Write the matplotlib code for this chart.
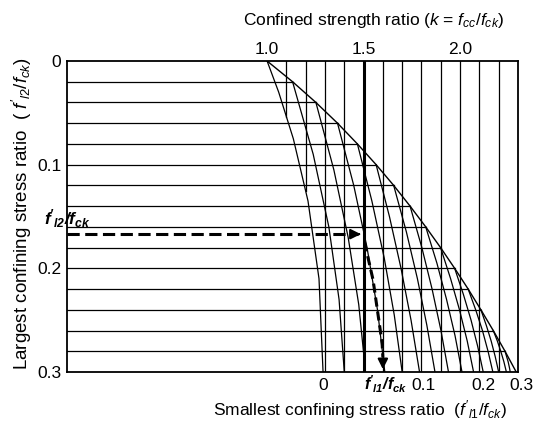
import numpy as np
import matplotlib.pyplot as plt
from matplotlib.transforms import blended_transform_factory

plt.rcParams['font.family'] = ['Liberation Sans', 'DejaVu Sans']
plt.rcParams['mathtext.fontset'] = 'custom'
plt.rcParams['mathtext.rm'] = 'Liberation Sans'
plt.rcParams['mathtext.it'] = 'Liberation Sans:italic'
plt.rcParams['mathtext.bf'] = 'Liberation Sans:bold'
plt.rcParams['mathtext.bfit'] = 'Liberation Sans:italic:bold'

# envelope: f'l1 = f'l2
env_f2 = [0.00, 0.02, 0.04, 0.06, 0.08, 0.10, 0.12, 0.14,
          0.16, 0.18, 0.20, 0.22, 0.24, 0.26, 0.28, 0.30]
env_k = [1.000, 1.132, 1.253, 1.365, 1.468, 1.565, 1.656, 1.741,
         1.822, 1.899, 1.972, 2.042, 2.108, 2.172, 2.233, 2.291]

# curves of constant f'l1/fck
f1_levels = [0.00, 0.02, 0.04, 0.06, 0.08, 0.10, 0.12, 0.14,
             0.16, 0.18, 0.20, 0.22, 0.24, 0.26, 0.28]
curve_f2 = [
    [0.000, 0.030, 0.075, 0.135, 0.210, 0.300],
    [0.020, 0.090, 0.160, 0.230, 0.300],
    [0.040, 0.105, 0.170, 0.235, 0.300],
    [0.060, 0.120, 0.180, 0.240, 0.300],
    [0.080, 0.135, 0.190, 0.245, 0.300],
    [0.100, 0.150, 0.200, 0.250, 0.300],
    [0.120, 0.165, 0.210, 0.255, 0.300],
    [0.140, 0.180, 0.220, 0.260, 0.300],
    [0.160, 0.195, 0.230, 0.265, 0.300],
    [0.180, 0.210, 0.240, 0.270, 0.300],
    [0.200, 0.225, 0.250, 0.275, 0.300],
    [0.220, 0.240, 0.260, 0.280, 0.300],
    [0.240, 0.255, 0.270, 0.285, 0.300],
    [0.260, 0.270, 0.280, 0.290, 0.300],
    [0.280, 0.285, 0.290, 0.295, 0.300],
]
curve_k = [
    [1.000, 1.060, 1.136, 1.212, 1.269, 1.290],
    [1.132, 1.239, 1.320, 1.373, 1.400],
    [1.253, 1.346, 1.420, 1.475, 1.510],
    [1.365, 1.449, 1.518, 1.572, 1.610],
    [1.468, 1.543, 1.607, 1.659, 1.700],
    [1.565, 1.634, 1.694, 1.746, 1.790],
    [1.656, 1.722, 1.779, 1.828, 1.870],
    [1.741, 1.802, 1.855, 1.901, 1.940],
    [1.822, 1.880, 1.930, 1.974, 2.010],
    [1.899, 1.951, 1.997, 2.037, 2.070],
    [1.972, 2.017, 2.057, 2.091, 2.120],
    [2.042, 2.081, 2.116, 2.145, 2.170],
    [2.108, 2.136, 2.161, 2.182, 2.200],
    [2.172, 2.193, 2.211, 2.227, 2.240],
    [2.233, 2.241, 2.249, 2.255, 2.260],
]

row_f2 = [0.02, 0.04, 0.06, 0.08, 0.10, 0.12, 0.14,
          0.16, 0.18, 0.20, 0.22, 0.24, 0.26, 0.28]
col_k = [1.1, 1.2, 1.3, 1.4, 1.5, 1.6, 1.7, 1.8, 1.9, 2.0, 2.1, 2.2]

top_ticks = [1.0, 1.5, 2.0]
top_labels = ['1.0', '1.5', '2.0']
left_ticks = [0.0, 0.1, 0.2, 0.3]
left_labels = ['0', '0.1', '0.2', '0.3']
bottom_k = [1.29, 1.81, 2.12, 2.32]
bottom_labels = ['0', '0.1', '0.2', '0.3']

# example reading path
arrow_f2 = 0.167
arrow_k_end = 1.50
path_k = [1.505, 1.549, 1.596, 1.600]
path_f2 = [0.175, 0.211, 0.272, 0.286]

xmin, xmax = -0.037, 2.30

fig = plt.figure(figsize=(5.41, 4.21), dpi=100)
ax = fig.add_axes([0.1238, 0.1164, 0.8336, 0.7387])
ax.set_xlim(xmin, xmax)
ax.set_ylim(0.3, 0.0)
for sp in ax.spines.values():
    sp.set_linewidth(1.3)

# horizontal lines stop at the envelope
for y in row_f2:
    x_end = np.interp(y, env_f2, env_k)
    ax.plot([xmin, x_end], [y, y], color='k', lw=0.9)

# vertical lines stop at the f'l1 = 0 curve
for x in col_k:
    y_end = np.interp(x, curve_k[0], curve_f2[0], right=0.3)
    lw = 2.2 if np.isclose(x, 1.5) else 0.9
    ax.plot([x, x], [0, y_end], color='k', lw=lw)

for ks, f2s in zip(curve_k, curve_f2):
    ax.plot(ks, f2s, color='k', lw=0.9)
ax.plot(env_k, env_f2, color='k', lw=1.0)

# dashed arrows
ax.plot([xmin, arrow_k_end - 0.03], [arrow_f2, arrow_f2], color='k',
        lw=2.2, dashes=(4, 1.8))
ax.annotate('', xy=(arrow_k_end, arrow_f2), xytext=(arrow_k_end - 0.04, arrow_f2),
            arrowprops=dict(arrowstyle='-|>', color='k', lw=1.5, mutation_scale=15))
ax.plot(path_k, path_f2, color='k', lw=2.2, dashes=(3, 1.6))
ax.annotate('', xy=(path_k[-1], 0.3), xytext=(path_k[-1], 0.285),
            arrowprops=dict(arrowstyle='-|>', color='k', lw=1.5, mutation_scale=15))

# ticks
ax.set_yticks(left_ticks, left_labels)
ax.tick_params(axis='y', length=0, pad=4, labelsize=12.5)
ax.xaxis.tick_top()
ax.set_xticks(top_ticks, top_labels)
ax.tick_params(axis='x', length=0, pad=3, labelsize=12.5)

trans = blended_transform_factory(ax.transData, ax.transAxes)
for k, lab in zip(bottom_k, bottom_labels):
    ax.text(k, -0.058, lab, transform=trans, ha='center', va='baseline', fontsize=12.5)

ax.text(1.615, -0.058, r"$\mathbfit{f'_{l1}/f_{ck}}$", transform=trans,
        ha='center', va='baseline', fontsize=11.5)
ax.text(xmin, 0.152, r"$\mathbfit{f'_{l2}/f_{ck}}$", ha='center', va='center',
        fontsize=12.5)

fig.text(0.69, 0.952, r"Confined strength ratio ($k$ = $f_{cc}$/$f_{ck}$)",
         ha='center', va='center', fontsize=12.5)
fig.text(0.665, 0.028, r"Smallest confining stress ratio  ($f'_{l1}/f_{ck}$)",
         ha='center', va='center', fontsize=12.5)
fig.text(0.041, 0.492, r"Largest confining stress ratio  ( $f'_{l2}/f_{ck}$)",
         ha='center', va='center', rotation=90, fontsize=13.5)

fig.savefig('out.png', dpi=100)
